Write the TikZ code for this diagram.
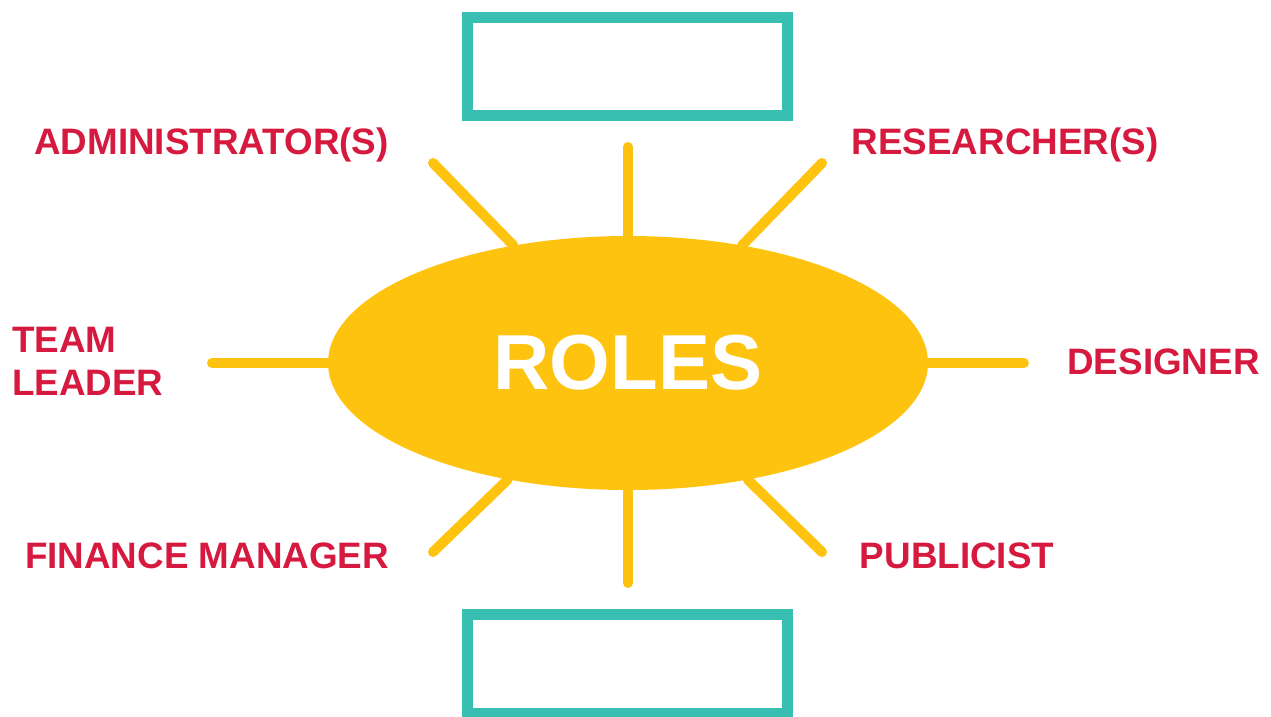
\documentclass[tikz,border=0pt]{standalone}
\usepackage{fontspec}
\setmainfont{Liberation Sans}
\usetikzlibrary{shapes.geometric}
\definecolor{sun}{HTML}{FEC30F}
\definecolor{rolered}{HTML}{D6193E}
\definecolor{boxteal}{HTML}{38BFB2}
\tikzset{
  ray/.style={sun,line width=10pt,line cap=round},
  role/.style={rolered,inner sep=0pt,anchor=base,font=\fontsize{36.8}{43}\selectfont\bfseries},
  blank/.style={draw=boxteal,line width=11pt,minimum width=320pt,minimum height=98pt,inner sep=0pt}
}
\begin{document}
\begin{tikzpicture}[x=1pt,y=-1pt]
\useasboundingbox (0,0) rectangle (1271,716);
\node[blank](topbox) at (627.5,66.5){};
\node[blank,minimum height=99pt](botbox) at (627.5,664){};
\node[ellipse,fill=sun,minimum width=600pt,minimum height=254pt,inner sep=0pt,
  text=white,font=\fontsize{78}{80}\selectfont\bfseries](roles) at (628,363){ROLES};
% rays
\coordinate (n) at (628,147);
\coordinate (s) at (628,583);
\coordinate (w) at (212,363);
\coordinate (e) at (1024,363);
\coordinate (nw) at (433,163);
\coordinate (ne) at (822,163);
\coordinate (sw) at (433,552);
\coordinate (se) at (822,552);
\foreach \c in {n,s,w,e,nw,ne,sw,se}
  \draw[ray](roles)--(\c);
% labels
\node[role](admin) at (211.5,154){ADMINISTRATOR(S)};
\node[role](research) at (1005,154){RESEARCHER(S)};
\node[role,anchor=base west,align=left](leader) at (12,395){TEAM\\LEADER};
\node[role](designer) at (1163.5,374){DESIGNER};
\node[role](finance) at (207,568){FINANCE MANAGER};
\node[role](publicist) at (957,568){PUBLICIST};
\end{tikzpicture}
\end{document}
